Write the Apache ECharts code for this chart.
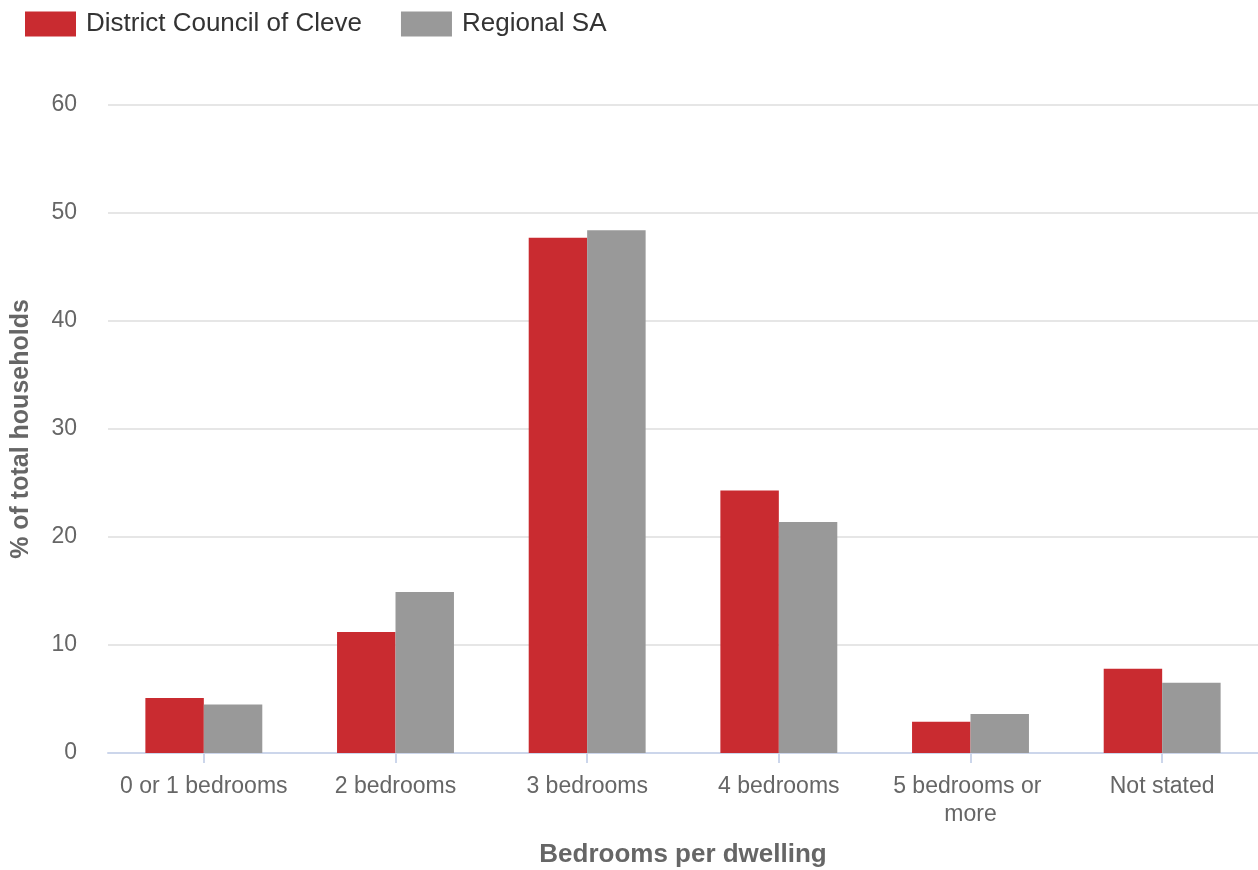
<!DOCTYPE html>
<html>
<head>
<meta charset="utf-8">
<script src="https://cdn.jsdelivr.net/npm/echarts@6/dist/echarts.min.js"></script>
<style>html,body{margin:0;padding:0;background:#fff;}#c{width:1258px;height:870px;}</style>
</head>
<body>
<div id="c"></div>
<script>
const categories = ['0 or 1 bedrooms', '2 bedrooms', '3 bedrooms', '4 bedrooms', '5 bedrooms or more', 'Not stated'];
const cleve = [5.1, 11.2, 47.7, 24.3, 2.9, 7.8];
const regionalSA = [4.5, 14.9, 48.4, 21.4, 3.6, 6.5];
const yTicks = [0, 10, 20, 30, 40, 50, 60];

const chart = echarts.init(document.getElementById('c'), null, {renderer: 'canvas'});
const font = '"Liberation Sans", Arial, sans-serif';
chart.setOption({
  animation: false,
  textStyle: {fontFamily: font},
  legend: {
    left: 25, top: 11, padding: 0,
    itemWidth: 51, itemHeight: 25, itemGap: 39,
    icon: 'rect',
    textStyle: {fontSize: 26, color: '#333', fontFamily: font, padding: [0, 0, 0, 5]},
    data: ['District Council of Cleve', 'Regional SA']
  },
  grid: {left: 108, right: 0, top: 105, bottom: 117, containLabel: false, outerBoundsMode: 'none'},
  xAxis: {
    type: 'category',
    data: categories,
    name: 'Bedrooms per dwelling',
    nameLocation: 'middle',
    nameGap: 89,
    nameTextStyle: {fontSize: 26, fontWeight: 'bold', color: '#666', fontFamily: font},
    axisLine: {lineStyle: {color: '#ccd6eb', width: 2}},
    axisTick: {show: true, length: 10, lineStyle: {color: '#ccd6eb', width: 2}, alignWithLabel: true},
    axisLabel: {fontSize: 23, color: '#666', margin: 20, lineHeight: 28, width: 175, overflow: 'break', interval: 0, fontFamily: font}
  },
  yAxis: {
    type: 'value',
    min: 0, max: 60, interval: 10,
    name: '% of total households',
    nameLocation: 'middle',
    nameGap: 74,
    nameTextStyle: {fontSize: 25, fontWeight: 'bold', color: '#666', fontFamily: font},
    axisLine: {show: false},
    axisTick: {show: false},
    splitLine: {lineStyle: {color: '#e6e6e6', width: 2}},
    axisLabel: {fontSize: 23, color: '#666', margin: 31, fontFamily: font,
      formatter: v => yTicks.includes(v) ? String(v) : ''}
  },
  series: [
    {name: 'District Council of Cleve', type: 'bar', data: cleve, barGap: '0%', barCategoryGap: '39%',
     itemStyle: {color: '#c92b30'}},
    {name: 'Regional SA', type: 'bar', data: regionalSA, barGap: '0%', barCategoryGap: '39%',
     itemStyle: {color: '#999999'}}
  ]
});
</script>
</body>
</html>
